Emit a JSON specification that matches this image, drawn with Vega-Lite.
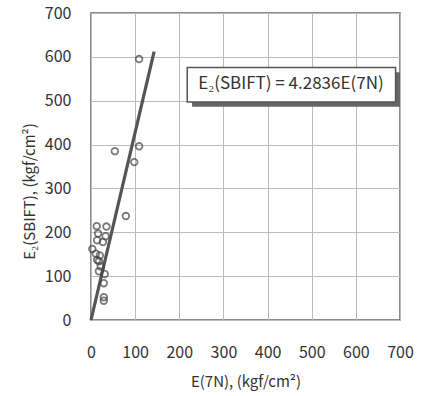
{
  "$schema": "https://vega.github.io/schema/vega-lite/v6.json",
  "autosize": {"type": "none"},
  "width": 309,
  "height": 307,
  "padding": {"left": 91, "top": 13, "right": 25, "bottom": 76},
  "background": "white",
  "config": {
    "view": {"stroke": "#666", "strokeWidth": 1.5},
    "font": "Noto Sans CJK JP",
    "axis": {
      "grid": true, "gridColor": "#bbb", "gridWidth": 1,
      "ticks": false, "domain": false, "labelFlush": false,
      "labelFont": "Noto Sans CJK JP", "labelFontSize": 16, "labelColor": "#333",
      "titleFont": "Noto Sans CJK JP", "titleFontSize": 15, "titleColor": "#333", "titleFontWeight": "normal"
    }
  },
  "datasets": {
    "pts": [
      {"x": 13, "y": 214}, {"x": 35, "y": 213}, {"x": 16, "y": 197}, {"x": 33, "y": 191},
      {"x": 14, "y": 182}, {"x": 27, "y": 178}, {"x": 3, "y": 162}, {"x": 11, "y": 151},
      {"x": 20, "y": 147}, {"x": 14, "y": 137}, {"x": 18, "y": 134}, {"x": 22, "y": 122},
      {"x": 18, "y": 111}, {"x": 31, "y": 105}, {"x": 29, "y": 84}, {"x": 29, "y": 52},
      {"x": 29, "y": 44}, {"x": 79, "y": 237}, {"x": 54, "y": 385}, {"x": 98, "y": 360},
      {"x": 109, "y": 396}, {"x": 109, "y": 595}
    ],
    "fit": [{"x": 0, "y": 0}, {"x": 143, "y": 612}],
    "box": [{"x1": 218, "x2": 690, "y1": 497, "y2": 576, "sx1": 229, "sx2": 700, "sy1": 486, "sy2": 565, "tx": 453, "ty": 537, "label": "E₂(SBIFT) = 4.2836E(7N)"}]
  },
  "layer": [
    {
      "data": {"name": "fit"},
      "mark": {"type": "line", "color": "#555", "strokeWidth": 3.2},
      "encoding": {
        "x": {"field": "x", "type": "quantitative", "scale": {"domain": [0, 700]},
              "axis": {"values": [0,100,200,300,400,500,600,700], "labelPadding": 24, "title": "E(7N), (kgf/cm²)", "titlePadding": 14}},
        "y": {"field": "y", "type": "quantitative", "scale": {"domain": [0, 700]},
              "axis": {"values": [0,100,200,300,400,500,600,700], "labelPadding": 20, "title": "E₂(SBIFT), (kgf/cm²)", "titleX": -54, "titleY": 178}}
      }
    },
    {
      "data": {"name": "pts"},
      "mark": {"type": "point", "shape": "circle", "filled": false, "color": "#444", "strokeWidth": 1.8, "size": 44},
      "encoding": {
        "x": {"field": "x", "type": "quantitative"},
        "y": {"field": "y", "type": "quantitative"}
      }
    },
    {
      "data": {"name": "box"},
      "mark": {"type": "rect", "fill": "#666"},
      "encoding": {
        "x": {"field": "sx1", "type": "quantitative"}, "x2": {"field": "sx2"},
        "y": {"field": "sy1", "type": "quantitative"}, "y2": {"field": "sy2"}
      }
    },
    {
      "data": {"name": "box"},
      "mark": {"type": "rect", "fill": "white", "stroke": "#555", "strokeWidth": 1.5},
      "encoding": {
        "x": {"field": "x1", "type": "quantitative"}, "x2": {"field": "x2"},
        "y": {"field": "y1", "type": "quantitative"}, "y2": {"field": "y2"}
      }
    },
    {
      "data": {"name": "box"},
      "mark": {"type": "text", "fontSize": 17, "color": "#333", "font": "Noto Sans CJK JP"},
      "encoding": {
        "x": {"field": "tx", "type": "quantitative"},
        "y": {"field": "ty", "type": "quantitative"},
        "text": {"field": "label"}
      }
    }
  ]
}
